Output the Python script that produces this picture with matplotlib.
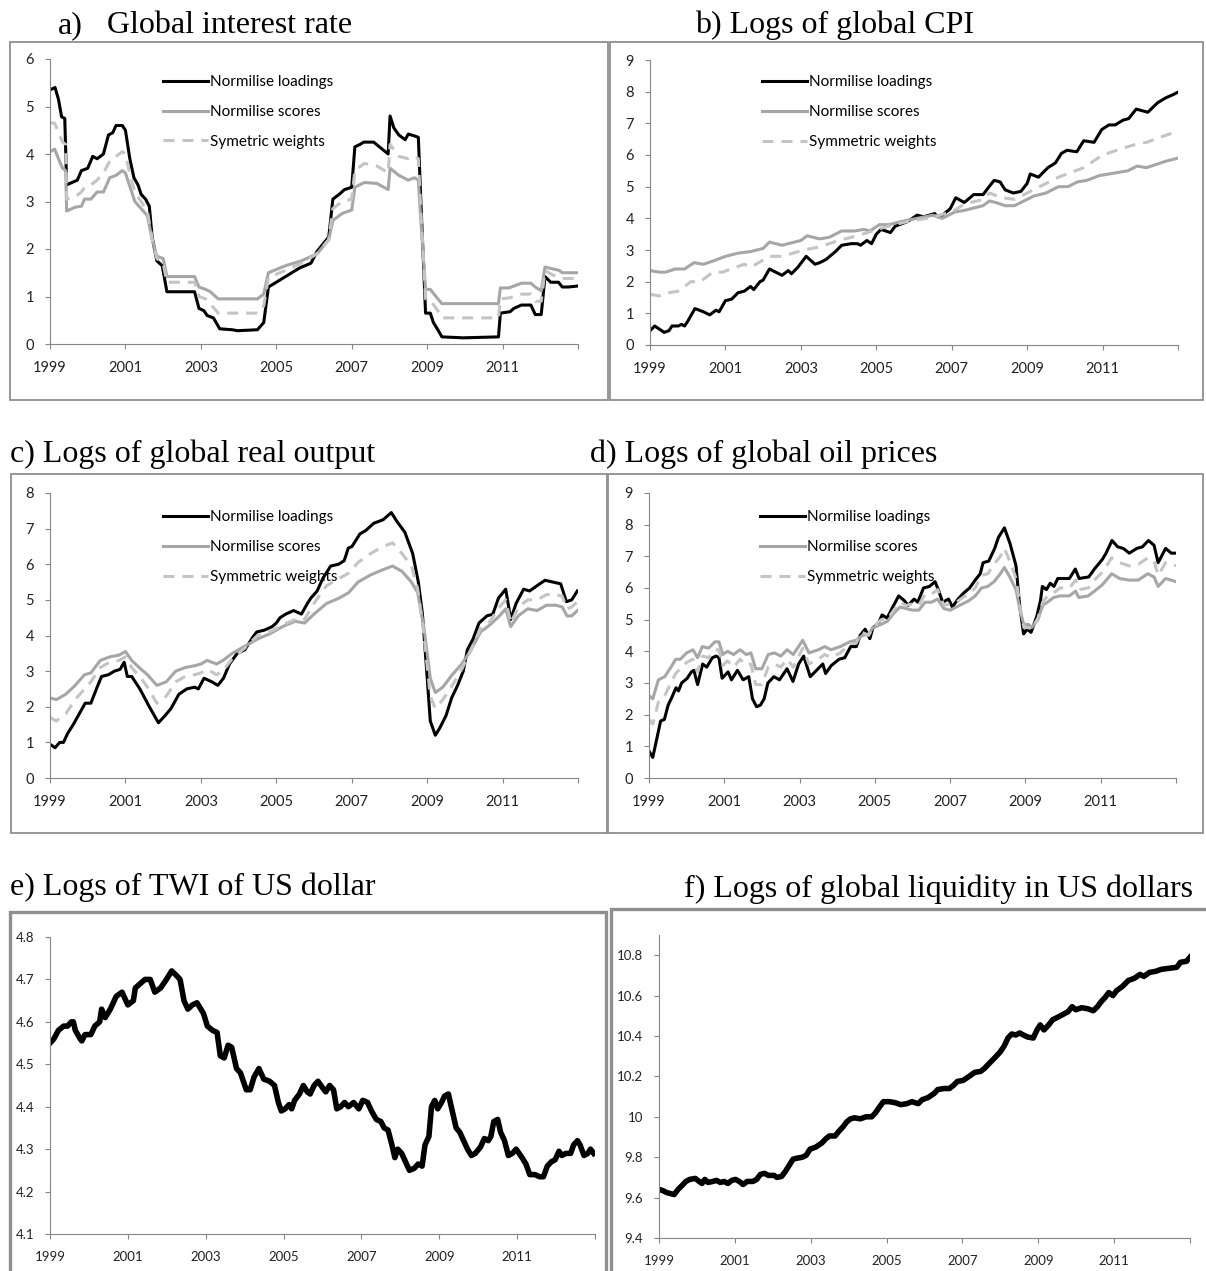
import matplotlib
matplotlib.use("Agg")
import matplotlib.pyplot as plt
from matplotlib.patches import Rectangle

# x positions are month indices counted from January 1999
year_ticks = [0, 24, 48, 72, 96, 120, 144, 168]
year_labels = ["1999", "2001", "2003", "2005", "2007", "2009", "2011", ""]
legend_labels = ["Normilise loadings", "Normilise scores", "Symetric weights"]
legend_labels_sym = ["Normilise loadings", "Normilise scores", "Symmetric weights"]

# a) global interest rate
a_load_m = [0, 1.6, 2.7, 3.7, 4.7, 5.3, 8.7, 10, 12, 13.6, 15, 17, 18.6, 20, 21, 23, 24, 25.4, 26.7, 28,
            29, 30.4, 31.6, 32.5, 34, 35.7, 37.2, 46, 47.4, 49, 50, 52, 54, 58, 59.6, 66, 68, 69.5, 72, 75.7,
            79.4, 83, 85, 86.8, 88.7, 90, 92, 93.7, 96, 97, 98.6, 99.8, 103, 104.8, 106.7, 107.6, 108.2, 109.4,
            111, 113, 114, 116, 117.2, 118, 119.5, 121, 122, 123.4, 124.7, 131.5, 142.7, 143.3, 146.4, 147.6,
            150, 153, 154.4, 156.3, 157.5, 159.3, 161.8, 163, 165, 167.8]
a_load_v = [5.35, 5.4, 5.15, 4.78, 4.75, 3.35, 3.45, 3.65, 3.7, 3.95, 3.9, 4.0, 4.4, 4.45, 4.6, 4.6, 4.5, 3.9,
            3.5, 3.35, 3.15, 3.05, 2.9, 2.25, 1.75, 1.65, 1.1, 1.1, 0.75, 0.7, 0.6, 0.55, 0.32, 0.3, 0.28, 0.3,
            0.45, 1.2, 1.3, 1.45, 1.6, 1.7, 1.95, 2.1, 2.25, 3.05, 3.15, 3.25, 3.3, 4.15, 4.2, 4.25, 4.25, 4.15,
            4.05, 4.0, 4.8, 4.55, 4.4, 4.3, 4.42, 4.38, 4.35, 3.0, 0.65, 0.65, 0.45, 0.3, 0.15, 0.13, 0.15,
            0.65, 0.68, 0.75, 0.82, 0.82, 0.62, 0.62, 1.42, 1.3, 1.3, 1.2, 1.2, 1.22]
a_score_m = [0, 1.5, 3, 4, 5, 5.3, 8, 10, 11, 13, 15, 17, 19, 21, 23, 24, 25.5, 27, 29, 31, 32.5, 34, 36, 37.2,
             46, 47.4, 49.5, 51, 53.5, 66, 68, 69.5, 75, 80, 85, 88.7, 90, 93, 96, 97, 100, 104, 107.6, 108.2,
             111, 114, 116, 117.2, 118, 119.5, 121, 123.4, 124.7, 142.7, 143.3, 146, 148, 150, 153, 154.4,
             156.3, 157.5, 160, 162, 163, 167.8]
a_score_v = [4.05, 4.1, 3.85, 3.7, 3.65, 2.8, 2.88, 2.9, 3.05, 3.05, 3.2, 3.2, 3.5, 3.55, 3.65, 3.6, 3.3, 3.0,
             2.85, 2.7, 2.2, 1.85, 1.8, 1.42, 1.42, 1.2, 1.15, 1.1, 0.95, 0.95, 1.05, 1.5, 1.65, 1.75, 1.9, 2.2,
             2.6, 2.75, 2.82, 3.3, 3.4, 3.38, 3.25, 3.7, 3.55, 3.45, 3.5, 3.45, 2.6, 1.15, 1.15, 0.95, 0.85,
             0.85, 1.18, 1.18, 1.23, 1.28, 1.28, 1.2, 1.12, 1.62, 1.58, 1.55, 1.5, 1.5]
a_sym_v = [4.65, 4.65, 4.4, 4.25, 4.2, 3.05, 3.1, 3.2, 3.3, 3.35, 3.45, 3.6, 3.85, 3.95, 4.05, 4.0, 3.55, 3.2,
           3.0, 2.8, 2.2, 1.8, 1.7, 1.3, 1.3, 1.0, 0.95, 0.85, 0.65, 0.65, 0.8, 1.4, 1.55, 1.7, 1.9, 2.2, 2.85,
           3.0, 3.05, 3.65, 3.8, 3.75, 3.6, 4.2, 3.95, 3.9, 3.95, 3.9, 2.8, 0.95, 0.92, 0.7, 0.55, 0.55, 0.95,
           0.97, 1.0, 1.05, 1.05, 0.9, 0.9, 1.55, 1.45, 1.42, 1.38, 1.38]

# b) logs of global CPI
b_load_m = [0, 1.5, 3, 4.5, 6, 7, 9, 10, 11, 12, 14.3, 17, 19, 21, 22, 24, 26, 28, 30, 32, 33, 35, 36, 38, 40,
            42, 44, 45, 47, 49.7, 52.5, 54, 56, 59, 61, 64, 66, 67, 69, 70.5, 72, 73.5, 76.5, 78, 82, 85, 87,
            90.6, 91.5, 93, 95.5, 97.3, 100, 103, 106, 107.5, 109.5, 111.4, 113, 115.6, 118, 120, 121, 123.6,
            126.6, 129, 130.9, 132.7, 135.8, 138, 141.3, 143.7, 146, 148, 150.5, 152.3, 154.7, 158.4, 161.5,
            164, 166.3, 167.9]
b_load_v = [0.45, 0.6, 0.5, 0.4, 0.45, 0.6, 0.6, 0.65, 0.6, 0.75, 1.15, 1.05, 0.95, 1.1, 1.05, 1.4, 1.45, 1.65,
            1.7, 1.85, 1.75, 2.0, 2.05, 2.4, 2.3, 2.2, 2.35, 2.25, 2.45, 2.8, 2.55, 2.6, 2.7, 2.95, 3.15, 3.2,
            3.2, 3.15, 3.3, 3.2, 3.5, 3.65, 3.55, 3.75, 3.9, 4.1, 4.05, 4.15, 4.05, 4.1, 4.3, 4.65, 4.5, 4.75,
            4.75, 4.95, 5.2, 5.15, 4.9, 4.8, 4.85, 5.1, 5.4, 5.3, 5.6, 5.75, 6.05, 6.15, 6.1, 6.45, 6.4, 6.8,
            6.95, 6.95, 7.1, 7.15, 7.45, 7.35, 7.65, 7.8, 7.9, 7.98]
b_score_m = [0, 3, 5, 8, 11, 14, 17, 20, 24, 28, 32, 36, 38, 42, 46, 48, 50, 54, 57, 61, 65, 68, 70, 73, 76, 80,
             85, 90, 93, 97, 100, 104, 106, 108, 110, 113, 116, 119, 122, 126, 130, 133, 136, 139, 143, 146,
             149, 152, 155, 158, 161, 164, 167.9]
b_score_v = [2.35, 2.3, 2.3, 2.4, 2.4, 2.6, 2.55, 2.65, 2.8, 2.9, 2.95, 3.05, 3.25, 3.15, 3.25, 3.3, 3.45,
             3.35, 3.4, 3.6, 3.6, 3.65, 3.6, 3.8, 3.8, 3.9, 4.0, 4.1, 4.0, 4.2, 4.25, 4.35, 4.4, 4.55, 4.5, 4.4,
             4.4, 4.55, 4.7, 4.8, 5.0, 5.0, 5.15, 5.2, 5.35, 5.4, 5.45, 5.5, 5.65, 5.6, 5.7, 5.8, 5.9]
b_sym_m = [0, 3, 6, 9, 13, 16, 20, 23, 30, 32, 38, 42, 49, 54, 60, 66, 74, 82, 88, 92, 96, 100, 106, 108, 112,
           116, 120, 124, 130, 134, 138, 144, 150, 155, 158, 162, 167.9]
b_sym_v = [1.6, 1.55, 1.65, 1.7, 2.0, 2.0, 2.3, 2.3, 2.55, 2.45, 2.8, 2.8, 3.0, 3.1, 3.3, 3.45, 3.7, 3.9, 4.0,
           4.1, 4.2, 4.45, 4.6, 4.8, 4.65, 4.6, 4.8, 5.0, 5.3, 5.45, 5.6, 6.0, 6.2, 6.35, 6.4, 6.55, 6.75]

# c) logs of global real output
c_load_m = [0, 1.6, 3.1, 4.3, 5.6, 7.4, 9.3, 11.2, 13, 15, 16.4, 18.6, 20.5, 22.3, 23.6, 24.6, 26, 28.6, 30.4,
            31.6, 32.9, 34.5, 36.6, 38.5, 41, 43.5, 46, 47.2, 49, 51.5, 53.4, 55.2, 57.1, 59.6, 62, 64.5, 65.8,
            68.2, 70.7, 72, 73.2, 75, 77.5, 80, 81.9, 83, 85, 86.8, 89.3, 91.8, 93.6, 94.9, 96.1, 98.6, 100.5,
            103, 106, 108.6, 110.4, 112.9, 115.4, 117.2, 118.5, 119.7, 121, 122.6, 124, 126, 127.8, 129.7,
            131.5, 132.8, 134.6, 136.5, 139, 140.9, 142.7, 145, 146.6, 148.3, 150.7, 152.6, 155, 157.5, 160,
            162.5, 164.3, 166, 167.8]
c_load_v = [0.95, 0.85, 1.0, 1.0, 1.25, 1.5, 1.8, 2.1, 2.1, 2.55, 2.85, 2.9, 3.0, 3.05, 3.25, 2.85, 2.85, 2.5,
            2.2, 2.0, 1.8, 1.55, 1.75, 1.95, 2.35, 2.5, 2.55, 2.5, 2.8, 2.7, 2.6, 2.8, 3.2, 3.5, 3.6, 3.95, 4.1,
            4.15, 4.25, 4.35, 4.5, 4.6, 4.7, 4.6, 4.9, 5.05, 5.25, 5.6, 5.95, 6.0, 6.1, 6.45, 6.5, 6.85, 6.95,
            7.15, 7.25, 7.45, 7.2, 6.9, 6.3, 5.5, 4.6, 3.2, 1.6, 1.2, 1.4, 1.75, 2.25, 2.6, 3.0, 3.6, 3.9, 4.35,
            4.55, 4.6, 5.05, 5.3, 4.45, 4.9, 5.3, 5.25, 5.4, 5.55, 5.5, 5.45, 4.95, 5.0, 5.25]
c_score_m = [0, 2, 5, 8, 11, 13, 16, 19, 22, 24, 26, 29, 31, 34, 37, 40, 43, 46, 48, 50, 53, 55, 58, 62, 66,
             70, 74, 78, 81, 84, 88, 92, 95, 98, 102, 106, 109, 112, 115, 117, 119, 121, 122.6, 125, 128, 131,
             134, 137, 140, 143, 145, 146.6, 149, 152, 155, 158, 161, 163, 164.5, 166, 167.8]
c_score_v = [2.25, 2.2, 2.35, 2.6, 2.9, 2.95, 3.3, 3.4, 3.45, 3.55, 3.3, 3.05, 2.9, 2.6, 2.7, 3.0, 3.1, 3.15,
             3.2, 3.3, 3.2, 3.3, 3.5, 3.7, 3.9, 4.05, 4.25, 4.4, 4.35, 4.6, 4.9, 5.05, 5.2, 5.5, 5.7, 5.85, 5.95,
             5.8, 5.5, 5.2, 4.2, 2.8, 2.4, 2.55, 2.9, 3.2, 3.6, 4.1, 4.3, 4.55, 4.75, 4.25, 4.55, 4.75, 4.7,
             4.85, 4.85, 4.8, 4.55, 4.55, 4.7]
c_sym_v = [1.7, 1.6, 1.8, 2.2, 2.5, 2.7, 3.1, 3.25, 3.3, 3.4, 3.1, 2.8, 2.55, 2.1, 2.3, 2.7, 2.85, 2.9, 2.95,
           3.05, 2.9, 3.0, 3.35, 3.65, 4.0, 4.1, 4.3, 4.45, 4.45, 4.9, 5.4, 5.6, 5.75, 6.05, 6.3, 6.5, 6.6, 6.3,
           5.95, 5.3, 4.0, 2.3, 1.95, 2.2, 2.6, 3.05, 3.6, 4.2, 4.4, 4.8, 5.0, 4.35, 4.8, 5.0, 5.0, 5.15, 5.15,
           5.1, 4.75, 4.8, 4.95]

# d) logs of global oil prices
d_load_m = [0, 1.2, 2.4, 3.7, 4.9, 6.1, 7.3, 8.6, 9.4, 10.4, 12.2, 13.5, 14.3, 15.5, 17.1, 18.4, 20.2, 21.4,
            22.3, 23.3, 25.2, 26.3, 28.2, 30, 31.8, 33, 34.3, 35.5, 36.7, 37.9, 39.8, 41.6, 44, 45.9, 47.7,
            49.3, 51.4, 53.9, 55.4, 56.3, 58.1, 60.6, 62.4, 64.3, 66.1, 67.3, 68.9, 70.4, 71.4, 73, 74.3, 75.9,
            77.7, 79.6, 81.4, 82.6, 84.5, 85.7, 87.5, 89.4, 91.2, 92.4, 93.6, 95.5, 96.7, 98.5, 100.4, 102.2,
            104, 105.6, 106.5, 108.3, 110.2, 111.4, 113.3, 115.1, 117, 118.1, 119.4, 120.6, 121.8, 123.6, 124.8,
            125.4, 126.7, 127.9, 129.1, 130.3, 132.2, 134, 135.9, 137.1, 140.2, 142, 144.5, 145.7, 147.6, 149.4,
            151.2, 153.1, 155.5, 157.3, 159.2, 161, 162.3, 164.7, 166.5, 168]
d_load_v = [0.85, 0.65, 1.2, 1.8, 1.85, 2.3, 2.55, 2.85, 2.75, 3.0, 3.15, 3.35, 3.4, 2.95, 3.6, 3.5, 3.8, 3.85,
            3.8, 3.15, 3.35, 3.1, 3.4, 3.1, 3.2, 2.5, 2.25, 2.3, 2.5, 3.0, 3.2, 3.1, 3.45, 3.05, 3.6, 3.85, 3.2,
            3.45, 3.6, 3.3, 3.55, 3.75, 3.8, 4.15, 4.15, 4.5, 4.7, 4.4, 4.75, 4.85, 5.15, 5.05, 5.4, 5.75, 5.6,
            5.45, 5.65, 5.55, 6.0, 6.05, 6.2, 5.9, 5.55, 5.65, 5.4, 5.65, 5.85, 6.0, 6.25, 6.45, 6.8, 6.85, 7.25,
            7.6, 7.9, 7.4, 6.7, 5.5, 4.55, 4.7, 4.6, 5.1, 5.6, 6.05, 5.95, 6.15, 6.05, 6.3, 6.3, 6.3, 6.6, 6.3,
            6.35, 6.6, 6.9, 7.1, 7.5, 7.3, 7.25, 7.1, 7.25, 7.3, 7.5, 7.35, 6.8, 7.25, 7.1, 7.1]
d_score_m = [0, 1.2, 3, 5, 7, 8.5, 10, 12, 14, 15.5, 17, 19, 21, 22.3, 23.5, 25, 27, 29, 31, 32.5, 34, 36, 38,
             40, 42, 44, 46, 49, 51, 54, 56, 58, 61, 64, 66, 68, 70, 71.4, 74, 76, 78, 80, 82, 84, 86, 88, 90,
             92, 94, 96, 98, 100, 102, 104, 106, 108, 110, 112, 113.3, 115, 117, 118.5, 119.5, 121, 122, 124,
             125.5, 127, 129, 131, 134, 136, 137, 140, 142, 144.5, 147.5, 150, 153, 156, 159, 161, 162.3, 164.7,
             168]
d_score_v = [2.6, 2.5, 3.1, 3.2, 3.5, 3.75, 3.75, 3.95, 4.05, 3.8, 4.15, 4.1, 4.3, 4.3, 3.9, 4.0, 3.9, 4.05,
             3.9, 3.95, 3.45, 3.45, 3.9, 3.95, 3.85, 4.05, 3.9, 4.35, 3.95, 4.05, 4.15, 4.05, 4.15, 4.3, 4.35,
             4.5, 4.55, 4.75, 4.85, 4.95, 5.2, 5.4, 5.35, 5.3, 5.3, 5.55, 5.55, 5.65, 5.35, 5.3, 5.4, 5.5, 5.6,
             5.75, 6.0, 6.05, 6.2, 6.45, 6.65, 6.35, 5.95, 5.2, 4.85, 4.85, 4.75, 5.0, 5.45, 5.55, 5.7, 5.75,
             5.75, 5.9, 5.7, 5.75, 5.9, 6.1, 6.45, 6.3, 6.25, 6.25, 6.45, 6.35, 6.05, 6.3, 6.2]
d_sym_v = [1.85, 1.7, 2.4, 2.6, 3.0, 3.3, 3.45, 3.65, 3.75, 3.35, 3.85, 3.8, 4.05, 4.05, 3.55, 3.7, 3.5, 3.75,
           3.55, 3.6, 2.95, 2.95, 3.5, 3.6, 3.5, 3.75, 3.5, 4.1, 3.6, 3.75, 3.9, 3.8, 3.95, 4.25, 4.25, 4.6, 4.5,
           4.75, 5.0, 5.0, 5.3, 5.55, 5.45, 5.5, 5.45, 5.8, 5.8, 5.95, 5.45, 5.5, 5.55, 5.7, 5.8, 6.0, 6.4,
           6.45, 6.75, 7.0, 7.25, 6.85, 6.3, 5.3, 4.75, 4.75, 4.7, 5.05, 5.55, 5.75, 5.85, 6.0, 6.0, 6.25, 5.95,
           6.0, 6.25, 6.5, 6.95, 6.8, 6.7, 6.75, 6.95, 6.85, 6.4, 6.8, 6.7]

# e) logs of TWI of US dollar
e_m = [0, 1.2, 2.6, 4.2, 5.4, 6.6, 7.2, 7.8, 9.3, 9.8, 10.8, 12.6, 13.8, 15.3, 15.9, 17, 18.6, 20.4, 22.2, 24,
       25.7, 26.3, 27.8, 29.3, 30.9, 32.3, 34.1, 35.9, 37.5, 38.9, 40.1, 41.3, 42.5, 43.9, 45.3, 46.5, 47.3,
       48.5, 50.1, 51.5, 52.5, 53.7, 54.9, 56, 57.5, 58.7, 60.5, 61.7, 62.9, 64.4, 65.9, 67.7, 69.2, 70.4,
       71.3, 72.5, 73.7, 74.5, 75.4, 76.9, 78.1, 79.3, 80.2, 81.4, 82.6, 84, 85, 86.2, 87.4, 88.4, 89.6, 90.8,
       92, 93.6, 95.2, 96.4, 97.9, 99.1, 100.6, 102, 103, 104.2, 105.4, 106.3, 107.2, 108.4, 109.6, 110.8,
       112.3, 113.5, 114.7, 115.6, 116.8, 117.6, 118.6, 119.5, 120.7, 121.6, 122.8, 124, 125.2, 126.3, 127.5,
       128.7, 129.9, 131.1, 132.7, 133.9, 135.1, 135.9, 136.8, 138, 138.9, 140.1, 141.3, 142.5, 143.7, 145.5,
       146.7, 147.9, 149.5, 150.9, 152.1, 153.3, 154.5, 155.7, 156.9, 157.8, 159, 160.5, 161.4, 162.6, 163.4,
       164.6, 165.8, 166.6, 167.6]
e_v = [4.55, 4.56, 4.58, 4.59, 4.59, 4.6, 4.6, 4.58, 4.56, 4.555, 4.57, 4.57, 4.59, 4.6, 4.63, 4.61, 4.63, 4.66,
       4.67, 4.64, 4.65, 4.68, 4.69, 4.7, 4.7, 4.67, 4.68, 4.7, 4.72, 4.71, 4.7, 4.65, 4.63, 4.64, 4.645, 4.63,
       4.62, 4.59, 4.58, 4.575, 4.52, 4.515, 4.545, 4.54, 4.49, 4.48, 4.44, 4.44, 4.47, 4.49, 4.465, 4.46, 4.45,
       4.41, 4.39, 4.395, 4.405, 4.395, 4.415, 4.43, 4.45, 4.435, 4.43, 4.45, 4.46, 4.445, 4.435, 4.45, 4.44,
       4.395, 4.4, 4.41, 4.4, 4.41, 4.395, 4.415, 4.41, 4.39, 4.37, 4.365, 4.35, 4.345, 4.31, 4.28, 4.3, 4.29,
       4.27, 4.25, 4.255, 4.265, 4.26, 4.31, 4.33, 4.4, 4.415, 4.395, 4.41, 4.425, 4.43, 4.39, 4.35, 4.34, 4.32,
       4.3, 4.285, 4.29, 4.305, 4.325, 4.32, 4.33, 4.365, 4.37, 4.34, 4.32, 4.285, 4.29, 4.3, 4.28, 4.265, 4.24,
       4.24, 4.235, 4.235, 4.26, 4.27, 4.275, 4.295, 4.285, 4.29, 4.29, 4.31, 4.32, 4.31, 4.285, 4.29, 4.3, 4.29]

# f) logs of global liquidity in US dollars
f_m = [0, 1.2, 2.4, 3.6, 4.8, 6, 7.3, 8.5, 9.7, 11.5, 12.7, 13.6, 14.5, 15.5, 17, 18.2, 19.4, 20.6, 21.8, 23,
       24.2, 25.4, 26.6, 27.9, 29.7, 30.9, 32.1, 33.4, 34.6, 36.4, 37.3, 38.8, 40, 41.2, 42.4, 43.6, 45.4, 46.6,
       47.8, 49.6, 51.5, 52.7, 53.9, 55.7, 57, 58.2, 59.4, 60.6, 61.8, 63.7, 65.5, 67.3, 68.5, 69.8, 71, 72.8,
       74.7, 76.5, 78.4, 80, 82, 83.3, 85.1, 87, 88.2, 90.1, 91.9, 93.1, 94.4, 96.2, 98.1, 99.9, 101.8, 103,
       104.2, 106.1, 107.9, 109.2, 110.4, 111.6, 112.9, 114.1, 115.3, 116.6, 118.4, 119.6, 120.6, 121.8, 123.3,
       124.5, 126.4, 128.2, 129.4, 130.7, 131.9, 133.7, 135.6, 137.4, 138.7, 139.9, 141.1, 142.3, 143.6, 144.8,
       146.6, 148.5, 150.3, 152.2, 153.4, 155.2, 157.1, 158.9, 161.3, 163.8, 165, 166.9, 168]
f_v = [9.64, 9.635, 9.625, 9.62, 9.615, 9.64, 9.66, 9.68, 9.69, 9.695, 9.68, 9.67, 9.69, 9.675, 9.68, 9.685,
       9.675, 9.68, 9.67, 9.685, 9.69, 9.68, 9.665, 9.68, 9.68, 9.69, 9.715, 9.72, 9.71, 9.71, 9.7, 9.705, 9.73,
       9.76, 9.79, 9.795, 9.8, 9.81, 9.84, 9.85, 9.87, 9.89, 9.905, 9.905, 9.93, 9.95, 9.975, 9.99, 9.995, 9.99,
       10.0, 10.0, 10.02, 10.05, 10.075, 10.075, 10.07, 10.06, 10.065, 10.075, 10.065, 10.085, 10.095, 10.115,
       10.135, 10.14, 10.14, 10.155, 10.175, 10.18, 10.2, 10.22, 10.225, 10.24, 10.26, 10.29, 10.32, 10.35,
       10.39, 10.41, 10.405, 10.415, 10.405, 10.395, 10.39, 10.43, 10.455, 10.43, 10.455, 10.48, 10.495, 10.51,
       10.52, 10.545, 10.53, 10.54, 10.535, 10.525, 10.545, 10.57, 10.59, 10.615, 10.6, 10.625, 10.645, 10.675,
       10.685, 10.705, 10.695, 10.715, 10.72, 10.73, 10.735, 10.74, 10.765, 10.77, 10.79]

W, H = 1206, 1271
BLACK = "#000000"
GRAY = "#a6a6a6"
LIGHT = "#c4c4c4"
AXIS = "#868686"
SANS = "Lato"
SERIF = "Liberation Serif"
TITLE_FS = 23

fig = plt.figure(figsize=(W / 100, H / 100), dpi=100)


def axes_px(left, top, right, bottom):
    # pixel box (from top-left of the image) -> figure axes
    return fig.add_axes([left / W, 1 - bottom / H, (right - left) / W, (bottom - top) / H])


def box_px(left, top, right, bottom, lw):
    fig.add_artist(Rectangle((left / W, 1 - bottom / H), (right - left) / W, (bottom - top) / H,
                             transform=fig.transFigure, fill=False, edgecolor="#8f8f8f", linewidth=lw))


def style_axes(ax, ylim, yticks, ylabels, fs=10.5):
    ax.set_xlim(0, 168)
    ax.set_ylim(*ylim)
    ax.set_xticks(year_ticks)
    ax.set_xticklabels(year_labels)
    ax.set_yticks(yticks)
    ax.set_yticklabels(ylabels)
    for s in ["top", "right"]:
        ax.spines[s].set_visible(False)
    for s in ["left", "bottom"]:
        ax.spines[s].set_color(AXIS)
        ax.spines[s].set_linewidth(0.8)
    ax.tick_params(axis="both", direction="out", length=3.5, width=0.8, color=AXIS,
                   labelcolor="#222222", labelsize=fs)
    ax.tick_params(axis="x", pad=9)
    ax.tick_params(axis="y", pad=8)
    for lab in ax.get_xticklabels() + ax.get_yticklabels():
        lab.set_fontfamily(SANS)
    ax.patch.set_alpha(0)


def three_lines(ax, load_m, load_v, score_m, score_v, sym_m, sym_v, labels, anchor):
    l1, = ax.plot(load_m, load_v, color=BLACK, lw=2.2, solid_joinstyle="round")
    l2, = ax.plot(score_m, score_v, color=GRAY, lw=2.2, solid_joinstyle="round")
    l3, = ax.plot(sym_m, sym_v, color=LIGHT, lw=2.2, dashes=(3.6, 2.6))
    ax.legend([l1, l2, l3], labels, loc="upper left", bbox_to_anchor=anchor, frameon=False,
              prop={"family": SANS, "size": 11}, handlelength=2.95, handletextpad=0.15,
              labelspacing=1.04, borderpad=0, borderaxespad=0)


# panel frames
box_px(10, 42, 608, 400, 1.3)
box_px(610, 42, 1203, 400, 1.3)
box_px(11, 474, 607, 833, 1.3)
box_px(608, 474, 1203, 833, 1.3)
box_px(10, 912, 606, 1290, 2.4)
box_px(611, 909, 1220, 1290, 2.4)

# a)
ax = axes_px(50, 59, 578, 344)
three_lines(ax, a_load_m, a_load_v, a_score_m, a_score_v, a_score_m, a_sym_v, legend_labels, (0.214, 0.944))
style_axes(ax, (0, 6), range(0, 7), [str(i) for i in range(0, 7)])
fig.text(58 / W, 1 - 33 / H, "a)", fontsize=TITLE_FS, family=SERIF, va="baseline")
fig.text(107 / W, 1 - 33 / H, "Global interest rate", fontsize=TITLE_FS, family=SERIF, va="baseline")

# b)
ax = axes_px(650, 60, 1178, 345)
three_lines(ax, b_load_m, b_load_v, b_score_m, b_score_v, b_sym_m, b_sym_v, legend_labels_sym, (0.212, 0.947))
style_axes(ax, (0, 9), range(0, 10), [str(i) for i in range(0, 10)])
fig.text(695 / W, 1 - 33 / H, "b) Logs of global CPI", fontsize=TITLE_FS, family=SERIF, va="baseline")

# c)
ax = axes_px(50, 493, 578, 778)
three_lines(ax, c_load_m, c_load_v, c_score_m, c_score_v, c_score_m, c_sym_v, legend_labels_sym, (0.214, 0.94))
style_axes(ax, (0, 8), range(0, 9), [str(i) for i in range(0, 9)])
fig.text(10 / W, 1 - 462 / H, "c) Logs of global real output", fontsize=TITLE_FS, family=SERIF, va="baseline")

# d)
ax = axes_px(649, 493, 1176, 778)
three_lines(ax, d_load_m, d_load_v, d_score_m, d_score_v, d_score_m, d_sym_v, legend_labels_sym, (0.21, 0.94))
style_axes(ax, (0, 9), range(0, 10), [str(i) for i in range(0, 10)])
fig.text(590 / W, 1 - 462 / H, "d) Logs of global oil prices", fontsize=TITLE_FS, family=SERIF, va="baseline")

# e)
ax = axes_px(50, 937, 595, 1234)
ax.plot(e_m, e_v, color=BLACK, lw=4.0, solid_joinstyle="round")
e_ticks = [4.1, 4.2, 4.3, 4.4, 4.5, 4.6, 4.7, 4.8]
style_axes(ax, (4.1, 4.8), e_ticks, ["%.1f" % t for t in e_ticks], fs=9.5)
fig.text(10 / W, 1 - 895 / H, "e) Logs of TWI of US dollar", fontsize=TITLE_FS, family=SERIF, va="baseline")

# f)
ax = axes_px(659, 935, 1190, 1238)
ax.plot(f_m, f_v, color=BLACK, lw=4.0, solid_joinstyle="round")
f_ticks = [9.4, 9.6, 9.8, 10.0, 10.2, 10.4, 10.6, 10.8]
style_axes(ax, (9.4, 10.9), f_ticks, ["%g" % t for t in f_ticks], fs=9.5)
fig.text(1193 / W, 1 - 897 / H, "f) Logs of global liquidity in US dollars", fontsize=TITLE_FS, family=SERIF,
         va="baseline", ha="right")

fig.savefig("out.png", dpi=100)
